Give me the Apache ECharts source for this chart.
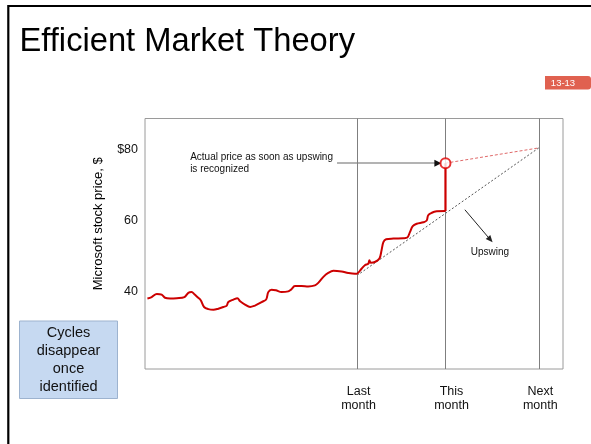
<!DOCTYPE html>
<html><head><meta charset="utf-8">
<script src="https://cdn.jsdelivr.net/npm/echarts@6/dist/echarts.min.js"></script>
<style>html,body{margin:0;padding:0;background:#fff}#c{width:591px;height:444px}</style>
</head><body><div id="c"></div>
<script>
const FONT = '"Liberation Sans", Arial, Helvetica, sans-serif';

// Price path (x = trading day across the window, y = $)
const priceDays = [0.8,2.2,3.9,5.5,6.6,8.3,10.5,13.0,14.3,15.4,16.3,17.3,18.4,19.5,20.9,22.6,24.2,25.9,27.0,27.5,29.2,30.5,31.4,33.0,34.7,36.3,37.7,38.5,40.0,40.7,41.8,43.2,45.1,47.3,48.2,49.5,51.7,53.9,56.1,57.2,58.9,60.5,62.2,64.9,67.1,69.3,69.9,71.5,72.6,73.7,74.1,74.5,75.9,77.4,78.1,78.7,79.6,82.0,85.3,86.6,87.5,88.4,89.7,91.9,93.0,93.5,94.7,96.3,99.2];
const priceValues = [38.1,38.5,39.4,39.2,38.3,38.1,38.2,38.5,39.7,39.9,39.3,38.5,37.6,35.7,35.1,34.9,35.2,35.7,36.1,37.1,37.8,38.2,37.3,36.4,35.7,36.1,36.7,37.1,37.8,39.9,40.6,40.4,39.9,40.1,40.6,41.6,41.6,41.5,41.8,42.5,44.2,45.3,45.9,45.7,45.3,45.1,45.1,46.5,47.5,47.9,48.9,48.2,48.4,49.4,51.7,54.0,54.8,55.0,55.1,55.3,56.9,58.5,59.2,59.6,60.1,61.6,62.3,62.7,62.8];

const monthLineDays = [70, 99.2, 130];
const monthLabelDays = [70.5, 101.2, 130.5];
const monthLabels = ['Last\nmonth', 'This\nmonth', 'Next\nmonth'];
const yTickValues = [40, 60, 80];
const yTickLabels = ['40', '60', '$80'];

const trendDays = [70, 130];
const trendValues = [44.6, 80.6];
const recognizedDay = 99.2;
const priceBeforeJump = 62.8;
const recognizedPrice = 76.3;
const nextMonthPrice = 80.6;

const chart = echarts.init(document.getElementById('c'), null, {renderer: 'canvas'});

const option = {
  animation: false,
  backgroundColor: '#fff',
  textStyle: {fontFamily: FONT},
  title: {
    text: 'Efficient Market Theory', left: 19.5, top: 25, padding: 0,
    textStyle: {fontSize: 32.7, fontWeight: 'normal', color: '#000', fontFamily: FONT}
  },
  grid: {left: 145, right: 28, top: 118.5, bottom: 75, show: true, borderColor: '#9a9a9a', borderWidth: 1, backgroundColor: 'transparent'},
  xAxis: {
    type: 'value', min: 0, max: 138,
    axisLine: {show: false}, axisTick: {show: false}, splitLine: {show: false},
    axisLabel: {
      customValues: monthLabelDays, margin: 15,
      fontSize: 12.5, lineHeight: 14.5, color: '#111', fontFamily: FONT, align: 'center',
      formatter: function (v) {
        let best = 0;
        monthLabelDays.forEach((d, i) => { if (Math.abs(d - v) < Math.abs(monthLabelDays[best] - v)) best = i; });
        return monthLabels[best];
      }
    }
  },
  yAxis: {
    type: 'value', min: 18.2, max: 88.9,
    axisLine: {show: false}, axisTick: {show: false}, splitLine: {show: false},
    name: 'Microsoft stock price, $', nameLocation: 'middle', nameRotate: 90, nameGap: 40,
    nameTextStyle: {fontSize: 13, color: '#000', fontFamily: FONT, padding: [0, 0, 0, 40]},
    axisLabel: {
      customValues: yTickValues, margin: 7, fontSize: 12.5, color: '#111', fontFamily: FONT,
      formatter: function (v) { const i = yTickValues.indexOf(Math.round(v)); return i >= 0 ? yTickLabels[i] : ''; }
    }
  },
  series: [
    {
      name: 'trend', type: 'line', data: trendDays.map((d, i) => [d, trendValues[i]]),
      showSymbol: false, symbol: 'none', lineStyle: {color: '#555', width: 1, type: [2, 2]}, z: 3,
      markLine: {
        silent: true, animation: false, symbol: ['none', 'none'],
        label: {show: false},
        data: [
          [{coord: [63.4, recognizedPrice], lineStyle: {color: '#9a9a9a', width: 1.5, type: 'solid'}}, {coord: [96.2, recognizedPrice]}],
          [{coord: [95.8, recognizedPrice], symbol: 'none', lineStyle: {color: '#111', width: 1.2, type: 'solid'}}, {coord: [96.7, recognizedPrice], symbol: 'triangle', symbolSize: [7, 7]}],
          [{coord: [105.6, 63.15], symbol: 'none', lineStyle: {color: '#222', width: 1, type: 'solid'}}, {coord: [114.0, 54.7], symbol: 'triangle', symbolSize: [6, 7]}]
        ]
      }
    },
    {
      name: 'price', type: 'line', data: priceDays.map((d, i) => [d, priceValues[i]]),
      smooth: 0.35, showSymbol: false, symbol: 'none',
      lineStyle: {color: '#cc0000', width: 2}, z: 5,
      markLine: {
        silent: true, animation: false, symbol: ['none', 'none'], label: {show: false},
        lineStyle: {color: '#7f7f7f', width: 1, type: 'solid'},
        data: monthLineDays.map(d => ({xAxis: d}))
      }
    },
    {
      name: 'expected', type: 'line', data: [[recognizedDay, recognizedPrice], [trendDays[1], nextMonthPrice]],
      showSymbol: false, symbol: 'none', lineStyle: {color: '#e06a6a', width: 1, type: [3, 2]}, z: 4
    },
    {
      name: 'jump', type: 'line', data: [[recognizedDay, priceBeforeJump], [recognizedDay, recognizedPrice]],
      showSymbol: false, symbol: 'none', lineStyle: {color: '#cc0000', width: 2.2}, z: 6
    },
    {
      name: 'recognized', type: 'scatter', data: [[recognizedDay, recognizedPrice]],
      symbol: 'circle', symbolSize: 10, z: 10,
      itemStyle: {color: '#fff', borderColor: '#e00000', borderWidth: 2}
    }
  ]
};
chart.setOption(option);

const p1 = chart.convertToPixel({gridIndex: 0}, [14.9, 79.6]);
const p2 = chart.convertToPixel({gridIndex: 0}, [113.9, 51.1]);

chart.setOption({
  graphic: [
    {type: 'line', shape: {x1: 8, y1: 6, x2: 591, y2: 6}, style: {stroke: '#000', lineWidth: 2}, silent: true},
    {type: 'line', shape: {x1: 8.3, y1: 5, x2: 8.3, y2: 444}, style: {stroke: '#000', lineWidth: 2.2}, silent: true},
    {type: 'rect', shape: {x: 545, y: 76, width: 46, height: 13.5, r: [0, 3, 3, 0]}, style: {fill: '#e06150'}, silent: true},
    {type: 'text', x: 563, y: 83, style: {text: '13-13', fill: '#fff', font: '9.5px ' + FONT, textAlign: 'center', textVerticalAlign: 'middle'}, silent: true},
    {type: 'rect', shape: {x: 19.5, y: 321, width: 98, height: 77.5}, style: {fill: '#c6d9f1', stroke: '#9db3cf', lineWidth: 1}, silent: true},
    {type: 'text', x: 68.5, y: 360, style: {text: 'Cycles\ndisappear\nonce\nidentified', fill: '#111', font: '14.5px ' + FONT, lineHeight: 18, textAlign: 'center', textVerticalAlign: 'middle'}, silent: true},
    {type: 'text', x: p1[0], y: p1[1], style: {text: 'Actual price as soon as upswing\nis recognized', fill: '#111', font: '10px ' + FONT, lineHeight: 12, textAlign: 'left', textVerticalAlign: 'top'}, silent: true, z: 20},
    {type: 'text', x: p2[0], y: p2[1], style: {text: 'Upswing', fill: '#111', font: '10px ' + FONT, textAlign: 'center', textVerticalAlign: 'middle'}, silent: true, z: 20}
  ]
});
</script>
</body></html>
